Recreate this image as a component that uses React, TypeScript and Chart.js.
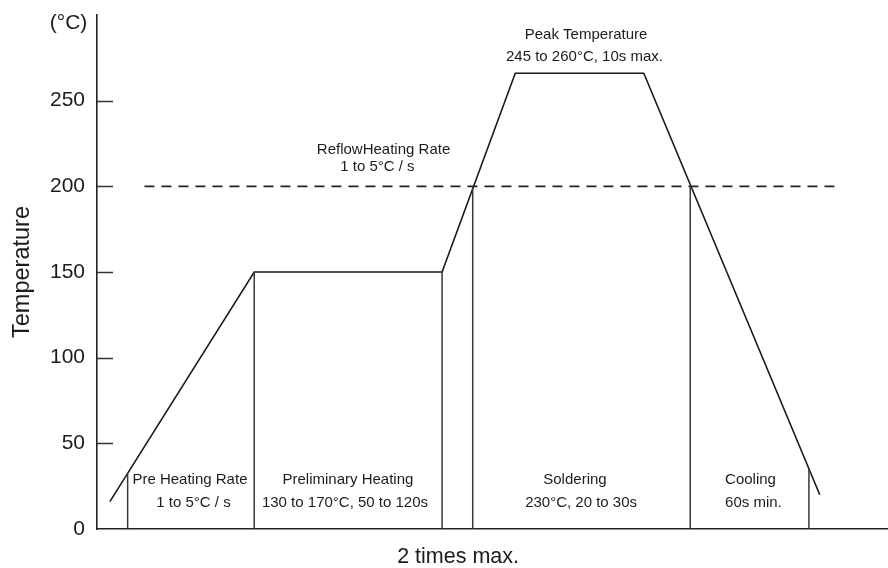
import { useEffect, useRef } from "react";
import { Chart, registerables } from "chart.js";

Chart.register(...registerables);

// ---- data (time in arbitrary seconds, temperature in °C) ----
const profileTime = [6.5, 79.5, 174.5, 211.5, 276.5, 365.5];
const profileTemp = [16, 150, 150, 266, 266, 20];
const reflowLevel = 200;
const reflowSpan = [24, 375];
const dividerTime = [15.5, 79.5, 174.5, 190, 300, 360];
const dividerTop = [32.5, 150, 150, 200, 200, 35];
const yTickValues = [0, 50, 100, 150, 200, 250];
const yMax = 300;
const xMax = 400;

// ---- annotation texts (positions in data coordinates) ----
type Note = { text: string; x: number; y: number; align: CanvasTextAlign; size: number };
const notes: Note[] = [
  { text: "Pre Heating Rate", x: 47.0, y: 28.6, align: "center", size: 15 },
  { text: "1 to 5°C / s", x: 48.8, y: 15.2, align: "center", size: 15 },
  { text: "Preliminary Heating", x: 126.9, y: 28.6, align: "center", size: 15 },
  { text: "130 to 170°C, 50 to 120s", x: 125.4, y: 15.2, align: "center", size: 15 },
  { text: "Soldering", x: 241.7, y: 28.6, align: "center", size: 15 },
  { text: "230°C, 20 to 30s", x: 244.8, y: 15.2, align: "center", size: 15 },
  { text: "Cooling", x: 317.6, y: 28.6, align: "left", size: 15 },
  { text: "60s min.", x: 317.6, y: 15.2, align: "left", size: 15 },
  { text: "ReflowHeating Rate", x: 144.9, y: 221.2, align: "center", size: 15 },
  { text: "1 to 5°C / s", x: 141.8, y: 211.6, align: "center", size: 15 },
  { text: "Peak Temperature", x: 247.3, y: 288.3, align: "center", size: 15 },
  { text: "245 to 260°C, 10s max.", x: 246.5, y: 275.5, align: "center", size: 15 },
  { text: "2 times max.", x: 182.6, y: -16.3, align: "center", size: 21.5 },
  { text: "(°C)", x: -14.4, y: 295.3, align: "center", size: 21 },
];

const FONT = '"Liberation Sans", Arial, sans-serif';
const INK = "#1c1c1c";

const overlayPlugin = {
  id: "overlay",
  afterDraw(chart: any) {
    const { ctx } = chart;
    const xs = chart.scales.x;
    const ys = chart.scales.y;
    ctx.save();
    // inward tick marks on the y axis
    ctx.strokeStyle = "#333";
    ctx.lineWidth = 1.5;
    const left = chart.chartArea.left;
    yTickValues.forEach((v) => {
      if (v === 0) return;
      const py = Math.round(ys.getPixelForValue(v)) + 0.5;
      ctx.beginPath();
      ctx.moveTo(left, py);
      ctx.lineTo(left + 16, py);
      ctx.stroke();
    });
    // notes
    ctx.fillStyle = INK;
    ctx.textBaseline = "middle";
    notes.forEach((n) => {
      ctx.font = `${n.size}px ${FONT}`;
      ctx.textAlign = n.align;
      ctx.fillText(n.text, xs.getPixelForValue(n.x), ys.getPixelForValue(n.y));
    });
    ctx.restore();
  },
};

export default function App() {
  const ref = useRef<HTMLCanvasElement | null>(null);

  useEffect(() => {
    if (!ref.current) return;
    const profile = profileTime.map((t, i) => ({ x: t, y: profileTemp[i] }));
    const reflow = reflowSpan.map((t) => ({ x: t, y: reflowLevel }));
    const dividers: { x: number; y: number | null }[] = [];
    dividerTime.forEach((t, i) => {
      dividers.push({ x: t, y: 0 }, { x: t, y: dividerTop[i] }, { x: t, y: null });
    });

    const chart = new Chart(ref.current, {
      type: "line",
      data: {
        datasets: [
          {
            label: "Dividers",
            data: dividers as any,
            borderColor: "#3a3a3a",
            borderWidth: 1.5,
            pointRadius: 0,
            spanGaps: false,
          },
          {
            label: "Reflow level",
            data: reflow,
            borderColor: "#222",
            borderWidth: 1.8,
            borderDash: [10, 7],
            pointRadius: 0,
          },
          {
            label: "Profile",
            data: profile,
            borderColor: "#1a1a1a",
            borderWidth: 1.6,
            pointRadius: 0,
            tension: 0,
          },
        ],
      },
      options: {
        animation: false,
        responsive: false,
        layout: { padding: { left: 0, right: 0, top: 15, bottom: 39 } },
        plugins: { legend: { display: false }, tooltip: { enabled: false } },
        scales: {
          x: {
            type: "linear",
            min: 0,
            max: xMax,
            ticks: { display: false },
            grid: { display: false },
            border: { display: true, color: "#222", width: 1.6 },
            afterFit: (s: any) => {
              s.height = 0;
              s.paddingLeft = 0;
              s.paddingRight = 0;
            },
          },
          y: {
            type: "linear",
            min: 0,
            max: yMax,
            afterBuildTicks: (s: any) => {
              s.ticks = yTickValues.map((v) => ({ value: v }));
            },
            ticks: {
              padding: 12,
              color: INK,
              font: { family: FONT, size: 21 },
            },
            grid: { display: false, drawTicks: false },
            border: { display: true, color: "#222", width: 1.6 },
            title: {
              display: true,
              text: "Temperature",
              color: INK,
              font: { family: FONT, size: 23.5 },
              padding: { top: 8, bottom: 0 },
            },
            afterFit: (s: any) => {
              s.width = 97;
              s.paddingTop = 0;
              s.paddingBottom = 0;
            },
          },
        },
      },
      plugins: [overlayPlugin],
    });
    return () => chart.destroy();
  }, []);

  return (
    <div style={{ position: "absolute", left: 0, top: 0, width: 888, height: 568, background: "#fff" }}>
      <canvas ref={ref} width={888} height={568} />
    </div>
  );
}
